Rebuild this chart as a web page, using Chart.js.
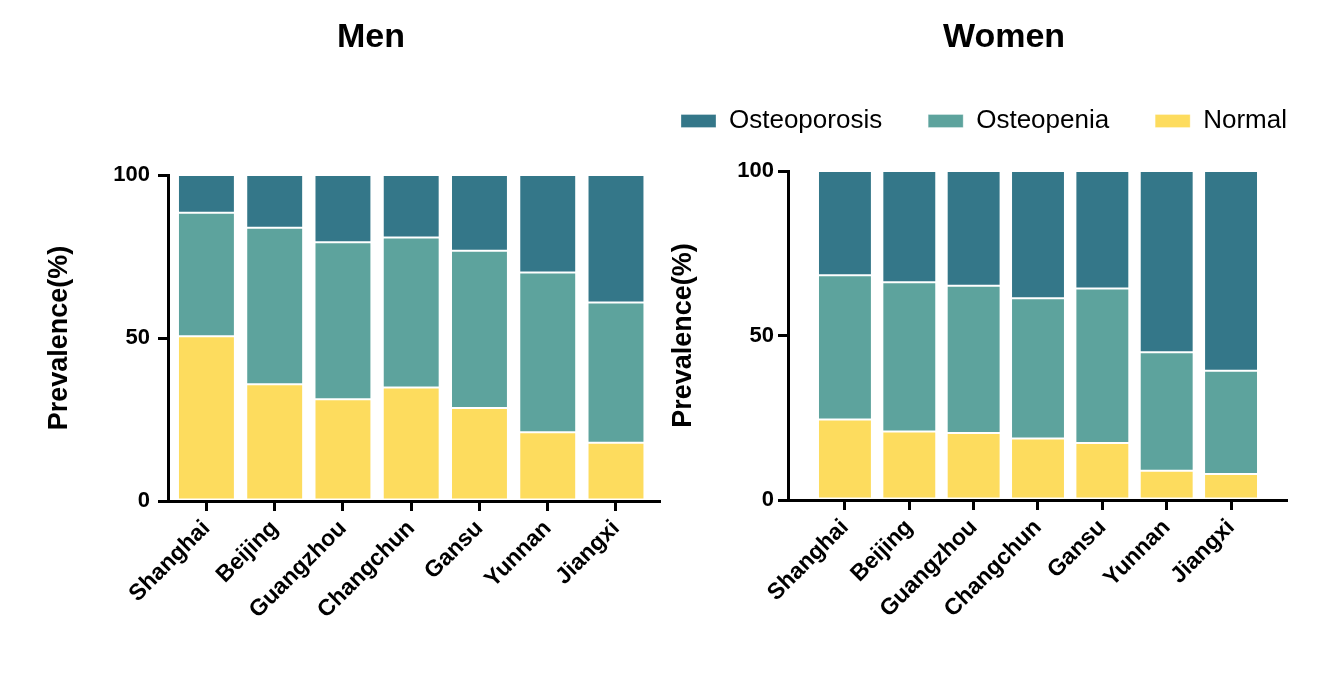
<!DOCTYPE html>
<html lang="en">
<head>
<meta charset="UTF-8">
<title>Prevalence by region</title>
<script src="https://cdn.jsdelivr.net/npm/chart.js"></script>
<style>
    body {
        margin: 0;
        background: #fff;
        font-family: 'Liberation Sans', Arial, sans-serif;
        overflow: hidden;
    }
    .wrap {
        position: relative;
        width: 1335px;
        height: 676px;
    }
    .box {
        position: absolute;
        top: 0;
        height: 676px;
    }
    .title {
        position: absolute;
        top: 15px;
        width: 300px;
        text-align: center;
        font-weight: bold;
        font-size: 34px;
        line-height: 40px;
        color: #000;
    }
</style>
</head>
<body>
<div class="wrap">
    <div class="box" style="left:0; width:667px;"><canvas id="menChart"></canvas></div>
    <div class="box" style="left:635px; width:700px;"><canvas id="womenChart"></canvas></div>
    <div class="title" style="left:221px;">Men</div>
    <div class="title" style="left:854px;">Women</div>
</div>

<script>
    // categories
    const regions = ['Shanghai', 'Beijing', 'Guangzhou', 'Changchun', 'Gansu', 'Yunnan', 'Jiangxi'];

    // men (%)
    const menNormal = [50.5, 35.8, 31.2, 34.8, 28.5, 21.1, 17.9];
    const menOsteopenia = [37.9, 48.0, 48.2, 46.0, 48.3, 49.0, 43.0];
    const menOsteoporosis = [11.6, 16.2, 20.6, 19.2, 23.2, 29.9, 39.1];

    // women (%)
    const womenNormal = [24.5, 20.8, 20.4, 18.7, 17.3, 8.9, 7.9];
    const womenOsteopenia = [43.8, 45.4, 44.7, 42.6, 47.0, 36.0, 31.4];
    const womenOsteoporosis = [31.7, 33.8, 34.9, 38.7, 35.7, 55.1, 60.7];

    const yTickValues = [0, 50, 100];

    const colorNormal = '#fddc5e';
    const colorOsteopenia = '#5da39d';
    const colorOsteoporosis = '#347789';

    Chart.defaults.font.family = "'Liberation Sans', Arial, sans-serif";
    Chart.defaults.color = '#000';

    // keeps the legend on one row and leaves room below it
    const legendSpacer = {
        id: 'legendSpacer',
        beforeInit(chart) {
            const fit = chart.legend.fit;
            chart.legend.fit = function () {
                const avail = this.maxWidth;
                this.maxWidth = 900;
                fit.bind(chart.legend)();
                this.maxWidth = avail;
                this.width = avail;
                this.height = 109;
            };
        },
        afterLayout(chart) {
            chart.legend.right = chart.legend.left + 900;
        }
    };

    function buildChart(id, normal, osteopenia, osteoporosis, cfg) {
        const points = arr => arr.map((v, i) => ({ x: i, y: v }));
        const bar = (label, arr, color) => ({
            label: label,
            data: points(arr),
            backgroundColor: color,
            borderColor: 'rgba(255,255,255,0.3)',
            borderWidth: 1,
            borderSkipped: false,
            barPercentage: cfg.barPct,
            categoryPercentage: 1
        });

        return new Chart(document.getElementById(id), {
            type: 'bar',
            data: {
                datasets: [
                    bar('Normal', normal, colorNormal),
                    bar('Osteopenia', osteopenia, colorOsteopenia),
                    bar('Osteoporosis', osteoporosis, colorOsteoporosis)
                ]
            },
            options: {
                responsive: true,
                maintainAspectRatio: false,
                animation: false,
                layout: { padding: { top: cfg.padTop, right: cfg.padRight, left: 0, bottom: 0 } },
                plugins: {
                    tooltip: { enabled: false },
                    legend: cfg.legend ? {
                        display: true,
                        position: 'top',
                        align: 'start',
                        reverse: true,
                        labels: {
                            boxWidth: 35,
                            boxHeight: 13,
                            padding: 46,
                            color: '#000',
                            font: { size: 26 }
                        }
                    } : { display: false }
                },
                scales: {
                    x: {
                        type: 'linear',
                        stacked: true,
                        offset: false,
                        min: cfg.xMin,
                        max: cfg.xMax,
                        border: { color: '#000', width: 3 },
                        grid: { offset: false, drawOnChartArea: false, color: '#000', lineWidth: 3, tickLength: 10 },
                        ticks: {
                            stepSize: 1,
                            includeBounds: false,
                            autoSkip: false,
                            minRotation: 45,
                            maxRotation: 45,
                            padding: 4,
                            color: '#000',
                            font: { size: 23, weight: 'bold' },
                            callback: v => regions[v] ?? ''
                        },
                        afterFit: s => { s.height = cfg.xHeight; }
                    },
                    y: {
                        stacked: true,
                        min: yTickValues[0],
                        max: yTickValues[yTickValues.length - 1],
                        border: { color: '#000', width: 3 },
                        grid: { drawOnChartArea: false, color: '#000', lineWidth: 3, tickLength: 10 },
                        afterBuildTicks: s => { s.ticks = yTickValues.map(v => ({ value: v })); },
                        ticks: {
                            padding: cfg.yTickPad,
                            color: '#000',
                            font: { size: 22, weight: 'bold' }
                        },
                        title: {
                            display: true,
                            text: 'Prevalence(%)',
                            color: '#000',
                            font: { size: 27, weight: 'bold' },
                            padding: { top: cfg.titlePad, bottom: 0 }
                        },
                        afterFit: s => { s.width = cfg.yWidth; }
                    }
                }
            },
            plugins: cfg.legend ? [legendSpacer] : []
        });
    }

    buildChart('menChart', menNormal, menOsteopenia, menOsteoporosis, {
        legend: false,
        padTop: 175,
        padRight: 8,
        xMin: -0.563,
        xMax: 6.63,
        xHeight: 175,
        yWidth: 168,
        yTickPad: 8,
        titlePad: 43,
        barPct: 0.834
    });

    buildChart('womenChart', womenNormal, womenOsteopenia, womenOsteoporosis, {
        legend: true,
        padTop: 62,
        padRight: 49,
        xMin: -0.885,
        xMax: 6.854,
        xHeight: 176,
        yWidth: 153,
        yTickPad: 4,
        titlePad: 32,
        barPct: 0.838
    });
</script>
</body>
</html>
